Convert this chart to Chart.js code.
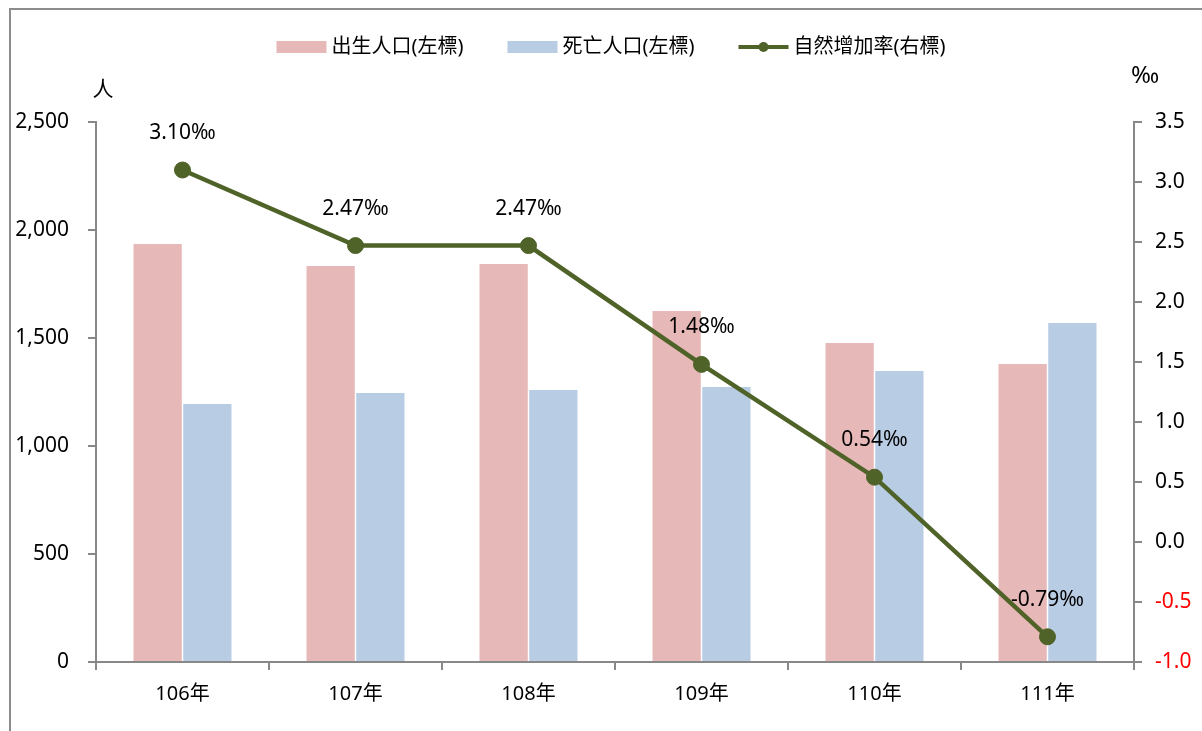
<!DOCTYPE html>
<html>
<head>
<meta charset="utf-8">
<script src="https://cdn.jsdelivr.net/npm/chart.js@4.4.0/dist/chart.umd.min.js"></script>
<style>
    html, body { margin: 0; padding: 0; background: #fff; }
    #wrap { width: 1202px; height: 731px; position: relative; }
</style>
</head>
<body>
<div id="wrap"><canvas id="chart"></canvas></div>
<script>
// Chart data
const years = ['106年', '107年', '108年', '109年', '110年', '111年'];
const births = [1935, 1833, 1843, 1625, 1477, 1380];
const deaths = [1194, 1245, 1259, 1273, 1347, 1569];
const growthRate = [3.10, 2.47, 2.47, 1.48, 0.54, -0.79];

const seriesNames = ['出生人口(左標)', '死亡人口(左標)', '自然增加率(右標)'];
const leftTicks = [0, 500, 1000, 1500, 2000, 2500];
const rightTicks = [-1.0, -0.5, 0.0, 0.5, 1.0, 1.5, 2.0, 2.5, 3.0, 3.5];

const FONT = '"Noto Sans", "Noto Sans CJK TC", sans-serif';
const AXIS_GRAY = '#888888';
const PINK = '#E6B8B7';
const BLUE = '#B8CCE4';
const OLIVE = '#4F6228';

/**
 * Frame, legend, unit labels and point labels
 */
const decorPlugin = {
    id: 'decor',
    beforeDraw(chart) {
        const ctx = chart.ctx;
        ctx.save();
        ctx.fillStyle = '#fff';
        ctx.fillRect(0, 0, chart.width, chart.height);
        // outer frame (left + top edge)
        ctx.strokeStyle = '#8c8c8c';
        ctx.lineWidth = 2;
        ctx.beginPath();
        ctx.moveTo(10, chart.height);
        ctx.lineTo(10, 9);
        ctx.lineTo(chart.width, 9);
        ctx.stroke();
        ctx.restore();
    },
    afterDatasetsDraw(chart) {
        const ctx = chart.ctx;
        ctx.save();

        // value labels above line points
        const meta = chart.getDatasetMeta(2);
        ctx.font = '21px ' + FONT;
        ctx.fillStyle = '#000';
        ctx.textAlign = 'center';
        ctx.textBaseline = 'middle';
        meta.data.forEach((pt, i) => {
            ctx.fillText(growthRate[i].toFixed(2) + '‰', pt.x, pt.y - 37);
        });

        // unit labels
        const left = chart.scales.y;
        const right = chart.scales.y1;
        ctx.fillText('人', left.right + 7, chart.chartArea.top - 32);
        ctx.font = '24px ' + FONT;
        ctx.fillText('‰', right.left + 11, chart.chartArea.top - 46);

        // legend
        ctx.font = '20px ' + FONT;
        const colors = [PINK, BLUE, OLIVE];
        const boxW = 50, gap = 5, spacing = 44;
        const widths = seriesNames.map(n => ctx.measureText(n).width);
        let total = 0;
        widths.forEach(w => { total += boxW + gap + w; });
        total += spacing * (seriesNames.length - 1);
        let x = 611 - total / 2;
        const y = 47;
        ctx.textAlign = 'left';
        seriesNames.forEach((name, i) => {
            if (i < 2) {
                ctx.fillStyle = colors[i];
                ctx.fillRect(x, y - 6, boxW, 12);
            } else {
                ctx.strokeStyle = OLIVE;
                ctx.lineWidth = 4;
                ctx.beginPath();
                ctx.moveTo(x, y);
                ctx.lineTo(x + boxW, y);
                ctx.stroke();
                ctx.fillStyle = OLIVE;
                ctx.beginPath();
                ctx.arc(x + boxW / 2, y, 5, 0, Math.PI * 2);
                ctx.fill();
            }
            ctx.fillStyle = '#000';
            ctx.fillText(name, x + boxW + gap, y);
            x += boxW + gap + widths[i] + spacing;
        });

        ctx.restore();
    }
};

const ctx = document.getElementById('chart').getContext('2d');

new Chart(ctx, {
    type: 'bar',
    data: {
        labels: years,
        datasets: [
            {
                label: seriesNames[0],
                data: births,
                backgroundColor: PINK,
                yAxisID: 'y',
                order: 2,
                barPercentage: 0.97,
                categoryPercentage: 0.575
            },
            {
                label: seriesNames[1],
                data: deaths,
                backgroundColor: BLUE,
                yAxisID: 'y',
                order: 2,
                barPercentage: 0.97,
                categoryPercentage: 0.575
            },
            {
                type: 'line',
                label: seriesNames[2],
                data: growthRate,
                borderColor: OLIVE,
                backgroundColor: OLIVE,
                borderWidth: 4.5,
                pointRadius: 8,
                pointBorderWidth: 1,
                pointBackgroundColor: OLIVE,
                pointBorderColor: OLIVE,
                tension: 0,
                yAxisID: 'y1',
                order: 0
            }
        ]
    },
    options: {
        responsive: true,
        maintainAspectRatio: false,
        animation: false,
        layout: {
            padding: { top: 122, left: 0, right: 0, bottom: 0 }
        },
        scales: {
            x: {
                offset: true,
                grid: {
                    offset: true,
                    drawOnChartArea: false,
                    color: AXIS_GRAY,
                    tickLength: 8,
                    lineWidth: 2
                },
                border: { color: AXIS_GRAY, width: 2 },
                ticks: {
                    color: '#000',
                    font: { family: FONT, size: 20 },
                    padding: 12
                },
                afterFit(scale) { scale.height = 69; }
            },
            y: {
                position: 'left',
                min: 0,
                max: 2500,
                afterBuildTicks(scale) {
                    scale.ticks = leftTicks.map(v => ({ value: v }));
                },
                grid: {
                    drawOnChartArea: false,
                    color: AXIS_GRAY,
                    tickLength: 8,
                    lineWidth: 2
                },
                border: { color: AXIS_GRAY, width: 2 },
                ticks: {
                    color: '#000',
                    font: { family: FONT, size: 21 },
                    padding: 19,
                    callback: v => v.toLocaleString('en-US')
                },
                afterFit(scale) { scale.width = 96; }
            },
            y1: {
                position: 'right',
                min: -1,
                max: 3.5,
                afterBuildTicks(scale) {
                    scale.ticks = rightTicks.map(v => ({ value: v }));
                },
                grid: {
                    drawOnChartArea: false,
                    color: AXIS_GRAY,
                    tickLength: 8,
                    lineWidth: 2
                },
                border: { color: AXIS_GRAY, width: 2 },
                ticks: {
                    font: { family: FONT, size: 21 },
                    padding: 13,
                    color: c => (c.tick && c.tick.value < 0 ? '#FF0000' : '#000'),
                    callback: v => Number(v).toFixed(1)
                },
                afterFit(scale) { scale.width = 68; }
            }
        },
        plugins: {
            legend: { display: false },
            tooltip: { enabled: false }
        }
    },
    plugins: [decorPlugin]
});
</script>
</body>
</html>
